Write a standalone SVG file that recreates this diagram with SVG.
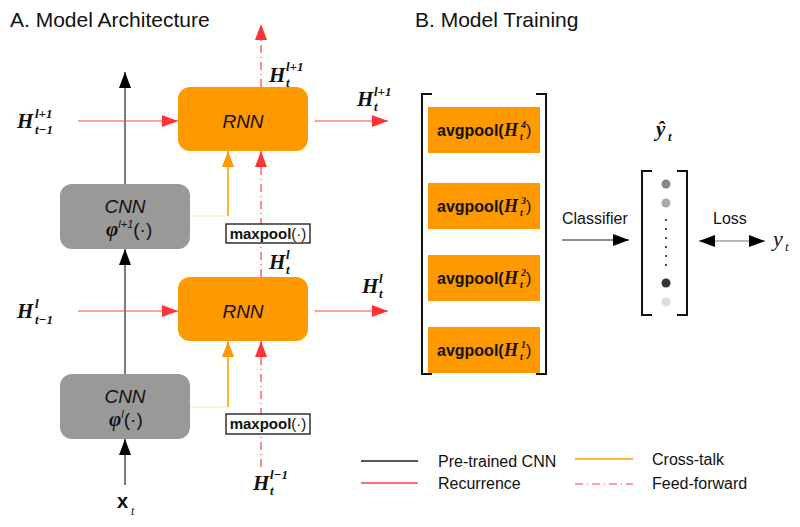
<svg xmlns="http://www.w3.org/2000/svg" width="800" height="527" viewBox="0 0 800 527">
<style>
.title{font-family:"Liberation Sans",Arial,sans-serif;font-size:21px;fill:#111}
.lbl{font-family:"Liberation Sans",Arial,sans-serif;font-size:16px;fill:#111}
.box{font-family:"Liberation Sans",Arial,sans-serif;font-size:19px;font-style:italic;fill:#111}
.H{font-family:"Liberation Serif","Times New Roman",serif;font-weight:bold;font-style:italic;font-size:21px;fill:#111}
.Hs{font-family:"Liberation Serif","Times New Roman",serif;font-weight:bold;font-style:italic;font-size:13px;fill:#111}
.mp{font-family:"Liberation Sans",Arial,sans-serif;font-size:15px;font-weight:bold;fill:#111}
.ap{font-family:"Liberation Sans",Arial,sans-serif;font-size:16px;font-weight:bold;fill:#111}
.apH{font-family:"Liberation Serif","Times New Roman",serif;font-weight:bold;font-style:italic;font-size:18px;fill:#111}
.apS{font-family:"Liberation Serif","Times New Roman",serif;font-weight:bold;font-style:italic;font-size:10px;fill:#111}
.apP{font-family:"Liberation Sans",Arial,sans-serif;font-size:16px;fill:#111}
.rnn{fill:#FF9900}
.cnn{fill:#999999}
.blk{stroke:#222;stroke-width:1.2;fill:none}
.red{stroke:#FF4040;stroke-width:1.2;fill:none}
.ff{stroke:#FF4040;stroke-width:1.2;fill:none;stroke-dasharray:8 4 1 4}
.org{stroke:#FF9900;stroke-width:1.5;fill:none}
.faint{stroke:#FFE3B8;stroke-width:1;fill:none}
.br{stroke:#111;stroke-width:2;fill:none}
</style>
<defs>
<marker id="ab" viewBox="0 0 16 12" refX="16" refY="6" markerWidth="16" markerHeight="12" markerUnits="userSpaceOnUse" orient="auto"><path d="M0,0 L16,6 L0,12 z" fill="#000"/></marker>
<marker id="ar" viewBox="0 0 16 12" refX="16" refY="6" markerWidth="16" markerHeight="12" markerUnits="userSpaceOnUse" orient="auto"><path d="M0,0 L16,6 L0,12 z" fill="#FF3333"/></marker>
<marker id="ao" viewBox="0 0 16 12" refX="16" refY="6" markerWidth="16" markerHeight="12" markerUnits="userSpaceOnUse" orient="auto"><path d="M0,0 L16,6 L0,12 z" fill="#FF9900"/></marker>
<marker id="as" viewBox="0 0 16 12" refX="16" refY="6" markerWidth="16" markerHeight="12" markerUnits="userSpaceOnUse" orient="auto-start-reverse"><path d="M0,0 L16,6 L0,12 z" fill="#000"/></marker>
</defs>
<rect width="800" height="527" fill="#fff"/>
<text class="title" x="10" y="27">A. Model Architecture</text>
<text class="title" x="415" y="27">B. Model Training</text>

<g id="connectors">
<line class="blk" x1="125" y1="184" x2="125" y2="72" marker-end="url(#ab)"/>
<line class="blk" x1="125" y1="374" x2="125" y2="249" marker-end="url(#ab)"/>
<line class="blk" x1="125" y1="485" x2="125" y2="439" marker-end="url(#ab)"/>
<line class="red" x1="78" y1="121" x2="178" y2="121" marker-end="url(#ar)"/>
<line class="red" x1="315" y1="121" x2="388" y2="121" marker-end="url(#ar)"/>
<line class="red" x1="78" y1="311" x2="178" y2="311" marker-end="url(#ar)"/>
<line class="red" x1="315" y1="311" x2="388" y2="311" marker-end="url(#ar)"/>
<line class="ff" x1="261" y1="87" x2="261" y2="24" marker-end="url(#ar)"/>
<line class="ff" x1="261" y1="277" x2="261" y2="151" marker-end="url(#ar)"/>
<line class="ff" x1="261" y1="467" x2="261" y2="341" marker-end="url(#ar)"/>
<polyline class="faint" points="190,216 228,216"/>
<line class="org" x1="228" y1="216" x2="228" y2="151" marker-end="url(#ao)"/>
<polyline class="faint" points="190,407 228,407"/>
<line class="org" x1="228" y1="407" x2="228" y2="341" marker-end="url(#ao)"/>
<line class="blk" x1="562" y1="240" x2="629" y2="240" marker-end="url(#ab)"/>
<line stroke="#777" stroke-width="1.2" x1="699" y1="241" x2="765" y2="241" marker-start="url(#as)" marker-end="url(#as)"/>
</g>

<g id="rnn-upper"><rect class="rnn" x="178" y="87" width="130" height="64" rx="12"/><text class="box" x="243" y="128" text-anchor="middle">RNN</text></g>
<g id="rnn-lower"><rect class="rnn" x="178" y="277" width="130" height="64" rx="12"/><text class="box" x="243" y="318" text-anchor="middle">RNN</text></g>

<g id="cnn-upper"><rect class="cnn" x="60" y="184" width="130" height="65" rx="12"/>
<text class="box" x="125" y="213" text-anchor="middle">CNN</text>
<text x="106" y="236" font-family="Liberation Sans,Arial,sans-serif" font-size="19" fill="#111"><tspan font-family="Liberation Serif,serif" font-weight="bold" font-style="italic" font-size="21">φ</tspan><tspan font-size="11" font-style="italic" dy="-8">l+1</tspan><tspan dy="8">(·)</tspan></text></g>
<g id="cnn-lower"><rect class="cnn" x="60" y="374" width="130" height="65" rx="12"/>
<text class="box" x="125" y="403" text-anchor="middle">CNN</text>
<text x="109" y="426" font-family="Liberation Sans,Arial,sans-serif" font-size="19" fill="#111"><tspan font-family="Liberation Serif,serif" font-weight="bold" font-style="italic" font-size="21">φ</tspan><tspan font-size="11" font-style="italic" dy="-8">l</tspan><tspan dy="8">(·)</tspan></text></g>

<g id="maxpool-upper"><rect x="226" y="224" width="84" height="19" fill="#fff" stroke="#111" stroke-width="1.3"/><text class="mp" x="268" y="239" text-anchor="middle">maxpool<tspan font-weight="normal">(·)</tspan></text></g>
<g id="maxpool-lower"><rect x="226" y="414" width="84" height="20" fill="#fff" stroke="#111" stroke-width="1.3"/><text class="mp" x="268" y="429" text-anchor="middle">maxpool<tspan font-weight="normal">(·)</tspan></text></g>

<g id="labels-H">
<text class="H" x="17" y="128">H</text><text class="Hs" x="35" y="118">l+1</text><text class="Hs" x="35" y="134">t−1</text>
<text class="H" x="17" y="318">H</text><text class="Hs" x="35" y="308">l</text><text class="Hs" x="35" y="324">t−1</text>
<text class="H" x="357" y="106">H</text><text class="Hs" x="374" y="96">l+1</text><text class="Hs" x="374" y="111">t</text>
<text class="H" x="362" y="293">H</text><text class="Hs" x="379" y="283">l</text><text class="Hs" x="379" y="298">t</text>
<text class="H" x="269" y="82">H</text><text class="Hs" x="286" y="71">l+1</text><text class="Hs" x="286" y="87">t</text>
<text class="H" x="269" y="269">H</text><text class="Hs" x="286" y="259">l</text><text class="Hs" x="286" y="274">t</text>
<text class="H" x="253" y="490">H</text><text class="Hs" x="270" y="479">l−1</text><text class="Hs" x="270" y="495">t</text>
</g>
<g id="x-t"><text x="117" y="508" font-family="Liberation Sans,Arial,sans-serif" font-weight="bold" font-size="20" fill="#111">x</text><text x="131" y="515" font-family="Liberation Serif,serif" font-style="italic" font-size="12" fill="#111">t</text></g>

<g id="feature-stack">
<path class="br" d="M432,94 H422 V374 H432 M536,94 H546 V374 H536"/>
<g id="avg4"><rect class="rnn" x="428" y="107" width="112" height="46"/><text class="ap" x="437" y="136">avgpool(</text><text class="apH" x="504" y="136">H</text><text class="apS" x="521" y="128">4</text><text class="apS" x="520" y="140">t</text><text class="apP" x="526" y="136">)</text></g>
<g id="avg3"><rect class="rnn" x="428" y="183" width="112" height="46"/><text class="ap" x="437" y="212">avgpool(</text><text class="apH" x="504" y="212">H</text><text class="apS" x="521" y="204">3</text><text class="apS" x="520" y="216">t</text><text class="apP" x="526" y="212">)</text></g>
<g id="avg2"><rect class="rnn" x="428" y="255" width="112" height="46"/><text class="ap" x="437" y="284">avgpool(</text><text class="apH" x="504" y="284">H</text><text class="apS" x="521" y="276">2</text><text class="apS" x="520" y="288">t</text><text class="apP" x="526" y="284">)</text></g>
<g id="avg1"><rect class="rnn" x="428" y="327" width="112" height="46"/><text class="ap" x="437" y="356">avgpool(</text><text class="apH" x="504" y="356">H</text><text class="apS" x="521" y="348">1</text><text class="apS" x="520" y="360">t</text><text class="apP" x="526" y="356">)</text></g>
</g>

<g id="output-vector">
<path class="br" d="M652,171 H642 V315 H652 M677,171 H687 V315 H677"/>
<circle cx="666" cy="184" r="4.5" fill="#888"/>
<circle cx="666" cy="203" r="4.5" fill="#aaa"/>
<g fill="#111"><circle cx="666" cy="220" r="1"/><circle cx="666" cy="229" r="1"/><circle cx="666" cy="238" r="1"/><circle cx="666" cy="247" r="1"/><circle cx="666" cy="256" r="1"/><circle cx="666" cy="265" r="1"/></g>
<circle cx="666" cy="283" r="4.5" fill="#333"/>
<circle cx="666" cy="302" r="4.5" fill="#ddd"/>
</g>
<g id="yhat"><text class="H" x="656" y="136" font-size="21">ŷ</text><text class="Hs" x="668" y="141" font-size="12">t</text></g>
<text class="lbl" x="562" y="224">Classifier</text>
<text class="lbl" x="713" y="224">Loss</text>
<g id="y-t"><text x="773" y="246" font-family="Liberation Serif,serif" font-style="italic" font-size="22" fill="#111">y</text><text x="785" y="251" font-family="Liberation Serif,serif" font-style="italic" font-size="13" fill="#111">t</text></g>

<g id="legend">
<line x1="361" y1="461" x2="418" y2="461" stroke="#222" stroke-width="1.3"/>
<text class="lbl" x="438" y="467">Pre-trained CNN</text>
<line x1="361" y1="483" x2="418" y2="483" stroke="#FF4040" stroke-width="1.3"/>
<text class="lbl" x="438" y="489">Recurrence</text>
<line x1="575" y1="459" x2="633" y2="459" stroke="#FF9900" stroke-width="1.3"/>
<text class="lbl" x="652" y="465">Cross-talk</text>
<line x1="575" y1="484" x2="633" y2="484" class="ff"/>
<text class="lbl" x="652" y="489">Feed-forward</text>
</g>
</svg>
